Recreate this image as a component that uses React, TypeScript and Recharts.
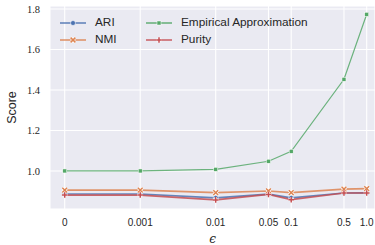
import React from "react";
import {
  LineChart,
  Line,
  XAxis,
  YAxis,
  CartesianGrid,
} from "recharts";

// epsilon values and their tick labels
const epsValues = [0, 0.001, 0.01, 0.05, 0.1, 0.5, 1.0];
const epsLabels = ["0", "0.001", "0.01", "0.05", "0.1", "0.5", "1.0"];

// scores
const ari = [0.886, 0.886, 0.867, 0.885, 0.867, 0.891, 0.892];
const nmi = [0.905, 0.905, 0.893, 0.901, 0.893, 0.91, 0.913];
const empirical = [1.0, 1.0, 1.008, 1.048, 1.097, 1.453, 1.774];
const purity = [0.881, 0.881, 0.857, 0.884, 0.858, 0.891, 0.891];

const yTicks = [1.0, 1.2, 1.4, 1.6, 1.8];

// symlog-like position: 0 sits one decade left of 0.001
const toPos = (e: number) => (e === 0 ? -4 : Math.log10(e));

const data = epsValues.map((e, i) => ({
  x: toPos(e),
  ari: ari[i],
  nmi: nmi[i],
  empirical: empirical[i],
  purity: purity[i],
}));

const xTicks = epsValues.map(toPos);
const labelFor = (v: number) => {
  const i = xTicks.findIndex((t) => Math.abs(t - v) < 1e-6);
  return i >= 0 ? epsLabels[i] : "";
};

const colors = {
  ari: "#4c72b0",
  nmi: "#dd8452",
  empirical: "#55a868",
  purity: "#c44e52",
};

type MarkerKind = "circle" | "x" | "square" | "plus";

function Marker({ cx, cy, kind, color }: { cx: number; cy: number; kind: MarkerKind; color: string }) {
  if (cx == null || cy == null) return null;
  if (kind === "circle")
    return <circle cx={cx} cy={cy} r={2.5} fill={color} stroke="#fff" strokeWidth={0.6} />;
  if (kind === "square")
    return <rect x={cx - 2} y={cy - 2} width={4} height={4} fill={color} stroke="#fff" strokeWidth={0.5} />;
  if (kind === "x") {
    const s = 2.4;
    const d = `M${cx - s},${cy - s}L${cx + s},${cy + s}M${cx - s},${cy + s}L${cx + s},${cy - s}`;
    return (
      <g>
        <path d={d} stroke="#fff" strokeWidth={2.8} />
        <path d={d} stroke={color} strokeWidth={1.5} />
      </g>
    );
  }
  const s = 2.8;
  const d = `M${cx - s},${cy}L${cx + s},${cy}M${cx},${cy - s}L${cx},${cy + s}`;
  return (
    <g>
      <path d={d} stroke="#fff" strokeWidth={2.6} />
      <path d={d} stroke={color} strokeWidth={1.5} />
    </g>
  );
}

const series: { key: keyof typeof colors; name: string; kind: MarkerKind; width: number }[] = [
  { key: "ari", name: "ARI", kind: "circle", width: 1.7 },
  { key: "nmi", name: "NMI", kind: "x", width: 1.7 },
  { key: "empirical", name: "Empirical Approximation", kind: "square", width: 1.2 },
  { key: "purity", name: "Purity", kind: "plus", width: 1.7 },
];

function LegendBox() {
  const item = (s: (typeof series)[number]) => (
    <div key={s.key} style={{ display: "flex", alignItems: "center", height: 17 }}>
      <svg width={26} height={10} style={{ marginRight: 9 }}>
        <line x1={0} y1={5} x2={26} y2={5} stroke={colors[s.key]} strokeWidth={1.6} strokeOpacity={0.85} />
        <Marker cx={13} cy={5} kind={s.kind} color={colors[s.key]} />
      </svg>
      <span>{s.name}</span>
    </div>
  );
  return (
    <div
      style={{
        position: "absolute",
        left: 60,
        top: 14,
        display: "flex",
        fontFamily: "'Liberation Sans', Arial, sans-serif",
        fontSize: 11.8,
        color: "#262626",
        lineHeight: "17px",
      }}
    >
      <div style={{ width: 86 }}>{[series[0], series[1]].map(item)}</div>
      <div>{[series[2], series[3]].map(item)}</div>
    </div>
  );
}

export default function App() {
  return (
    <div style={{ position: "fixed", left: 0, top: 0, width: 375, height: 245, background: "#fff" }}>
      <LineChart width={375} height={245} data={data} margin={{ top: 6, right: 0, left: 0, bottom: 0 }}>
        <CartesianGrid stroke="#ffffff" strokeWidth={1.1} fill="#eaeaf2" />
        <XAxis
          dataKey="x"
          type="number"
          domain={[-4.195, 0.11]}
          ticks={xTicks}
          tickFormatter={labelFor}
          axisLine={false}
          tickLine={false}
          tickSize={0}
          tickMargin={10}
          height={36}
          interval={0}
          tick={{ fill: "#262626", fontSize: 10, fontFamily: "'Liberation Sans', sans-serif" }}
          label={{
            value: "ϵ",
            position: "insideBottom",
            offset: 2,
            fill: "#262626",
            fontSize: 12,
            fontStyle: "italic",
            fontFamily: "'DejaVu Serif', serif",
          }}
        />
        <YAxis
          type="number"
          domain={[0.812, 1.815]}
          ticks={yTicks}
          tickFormatter={(v: number) => v.toFixed(1)}
          axisLine={false}
          tickLine={false}
          tickSize={0}
          tickMargin={10}
          width={50}
          tick={{ fill: "#262626", fontSize: 10.5, fontFamily: "'Liberation Serif', serif" }}
          label={{
            value: "Score",
            angle: -90,
            position: "insideLeft",
            offset: 12,
            fill: "#262626",
            fontSize: 12.5,
            fontFamily: "'Liberation Sans', sans-serif",
            style: { textAnchor: "middle" },
          }}
        />
        {series.map((s) => (
          <Line
            key={s.key}
            dataKey={s.key}
            name={s.name}
            stroke={colors[s.key]}
            strokeWidth={s.width}
            strokeOpacity={0.85}
            isAnimationActive={false}
            dot={(p: any) => <Marker key={`${s.key}-${p.index}`} cx={p.cx} cy={p.cy} kind={s.kind} color={colors[s.key]} />}
            activeDot={false}
          />
        ))}
      </LineChart>
      <LegendBox />
    </div>
  );
}
